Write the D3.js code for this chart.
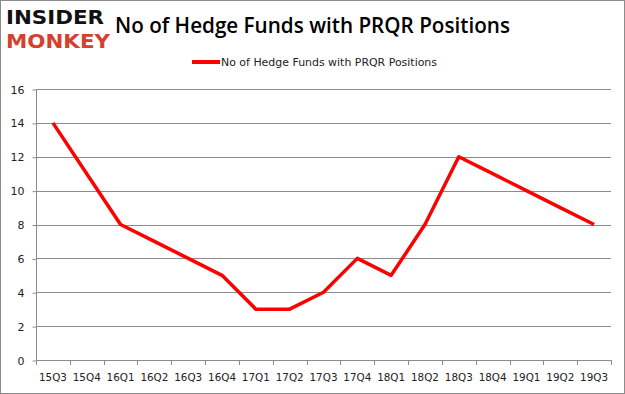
<!DOCTYPE html>
<html>
<head>
<meta charset="utf-8">
<script src="https://cdn.jsdelivr.net/npm/d3@7"></script>
<style>
  body { margin: 0; background: #fff; }
  svg { display: block; }
</style>
</head>
<body>
<div class="chart-container"></div>
<script>
var quarters = ['15Q3', '15Q4', '16Q1', '16Q2', '16Q3', '16Q4', '17Q1', '17Q2', '17Q3',
    '17Q4', '18Q1', '18Q2', '18Q3', '18Q4', '19Q1', '19Q2', '19Q3'];
var funds = [14, 11, 8, 7, 6, 5, 3, 3, 4, 6, 5, 8, 12, 11, 10, 9, 8];
var yTicks = [0, 2, 4, 6, 8, 10, 12, 14, 16];
var seriesName = 'No of Hedge Funds with PRQR Positions';

var width = 625;
var height = 394;
// plot area edges (names avoid clashing with window.top)
var plotLeft = 36, plotRight = 611, plotTop = 89, plotBottom = 360;

var svg = d3.select('.chart-container')
    .append('svg')
    .attr('width', width)
    .attr('height', height);

// outer frame
svg.append('rect')
    .attr('x', 0.5).attr('y', 0.5)
    .attr('width', width - 1).attr('height', height - 1)
    .attr('fill', '#fff')
    .attr('stroke', '#8c8c8c');

// logo
svg.append('text')
    .attr('x', 6).attr('y', 24)
    .style('font-family', 'DejaVu Sans')
    .style('font-weight', 'bold')
    .style('font-size', '19px')
    .attr('textLength', 98)
    .attr('lengthAdjust', 'spacingAndGlyphs')
    .attr('fill', '#111')
    .text('INSIDER');
svg.append('text')
    .attr('x', 6).attr('y', 48)
    .style('font-family', 'DejaVu Sans')
    .style('font-weight', 'bold')
    .style('font-size', '20px')
    .attr('textLength', 104)
    .attr('lengthAdjust', 'spacingAndGlyphs')
    .attr('fill', '#d6402e')
    .text('MONKEY');

// title
svg.append('text')
    .attr('x', 115).attr('y', 33)
    .style('font-family', 'Open Sans')
    .style('font-weight', '600')
    .style('font-size', '21px')
    .attr('textLength', 395)
    .attr('lengthAdjust', 'spacingAndGlyphs')
    .attr('fill', '#000')
    .text('No of Hedge Funds with PRQR Positions');

// legend
svg.append('line')
    .attr('x1', 192).attr('x2', 220)
    .attr('y1', 62).attr('y2', 62)
    .attr('stroke', '#ff0000')
    .attr('stroke-width', 4);
svg.append('text')
    .attr('x', 221).attr('y', 66)
    .style('font-family', 'DejaVu Sans')
    .style('font-size', '11px')
    .attr('textLength', 216)
    .attr('lengthAdjust', 'spacingAndGlyphs')
    .attr('fill', '#222')
    .text(seriesName);

var xScale = d3.scaleBand()
    .domain(quarters)
    .range([plotLeft, plotRight]);

var yScale = d3.scaleLinear()
    .domain([0, 16])
    .range([plotBottom, plotTop]);

// gridlines
svg.append('g')
    .selectAll('line')
    .data(yTicks.slice(1))
    .enter()
    .append('line')
    .attr('x1', plotLeft).attr('x2', plotRight)
    .attr('y1', d => Math.round(yScale(d)) + 0.5)
    .attr('y2', d => Math.round(yScale(d)) + 0.5)
    .attr('stroke', '#8c8c8c');

// y axis
var yAxis = d3.axisLeft(yScale).tickValues(yTicks).tickSize(4).tickPadding(8);
var gy = svg.append('g')
    .attr('transform', 'translate(' + (plotLeft + 0.5) + ',0.5)')
    .call(yAxis);
gy.select('.domain').attr('stroke', '#8c8c8c').attr('d', 'M0,' + plotTop + 'V' + plotBottom);
gy.selectAll('.tick line').attr('stroke', '#8c8c8c');
gy.selectAll('.tick text')
    .style('font-family', 'DejaVu Sans')
    .style('font-size', '11px')
    .attr('fill', '#222');

// x axis
var xAxis = d3.axisBottom(xScale).tickSize(0).tickPadding(13);
var gx = svg.append('g')
    .attr('transform', 'translate(0,' + (plotBottom + 0.5) + ')')
    .call(xAxis);
gx.select('.domain').attr('stroke', '#8c8c8c').attr('d', 'M' + plotLeft + ',0H' + plotRight);
gx.selectAll('.tick text')
    .style('font-family', 'DejaVu Sans')
    .style('font-size', '10px')
    .attr('textLength', 28)
    .attr('lengthAdjust', 'spacingAndGlyphs')
    .attr('fill', '#222');

// category boundary ticks
svg.append('g')
    .selectAll('line')
    .data(quarters.concat(['end']))
    .enter()
    .append('line')
    .attr('x1', (d, i) => Math.round(plotLeft + i * xScale.step()) + 0.5)
    .attr('x2', (d, i) => Math.round(plotLeft + i * xScale.step()) + 0.5)
    .attr('y1', plotBottom)
    .attr('y2', plotBottom + 5)
    .attr('stroke', '#8c8c8c');

// series line
var line = d3.line()
    .x((d, i) => xScale(quarters[i]) + xScale.bandwidth() / 2)
    .y(d => yScale(d));

svg.append('path')
    .datum(funds)
    .attr('d', line)
    .attr('fill', 'none')
    .attr('stroke', '#ff0000')
    .attr('stroke-width', 3.5)
    .attr('stroke-linejoin', 'round');
</script>
</body>
</html>
